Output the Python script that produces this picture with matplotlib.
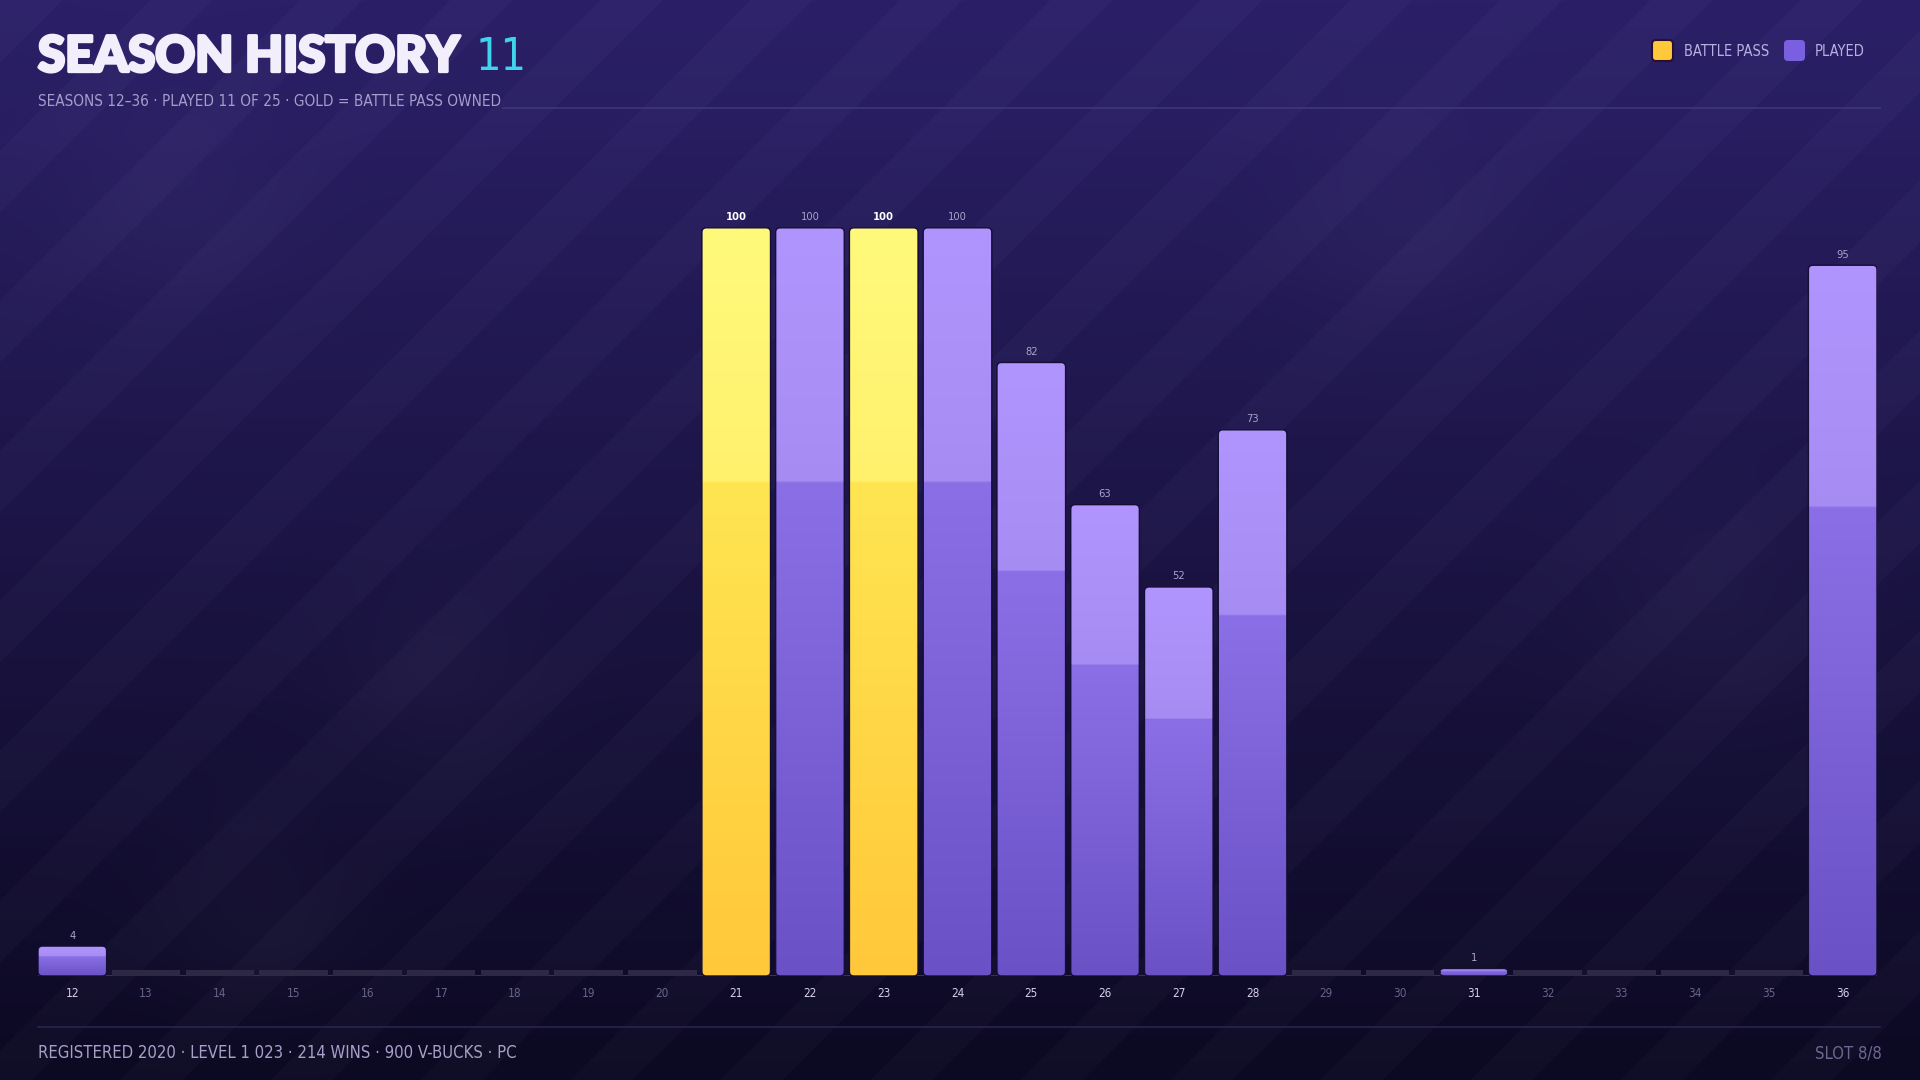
import numpy as np
import matplotlib
matplotlib.use("Agg")
from matplotlib import pyplot as plt
from matplotlib import patheffects as pe
from matplotlib.patches import FancyBboxPatch
from matplotlib.colors import to_rgb

seasons = [str(s) for s in range(12, 37)]
progress = [4, 0, 0, 0, 0, 0, 0, 0, 0, 100, 100, 100, 100, 82, 63, 52, 73, 0, 0, 1, 0, 0, 0, 0, 95]
battle_pass = ["21", "23"]

footer_items = ["REGISTERED 2020", "LEVEL 1 023", "214 WINS", "900 V-BUCKS", "PC"]

W, H = 1920, 1080
NARROW = dict(family="DejaVu Sans", fontstretch="condensed")
HEAVY = ["Lato", "DejaVu Sans"]


def hexrgb(c):
    return np.array(to_rgb(c))


def make_grad(top_hi, step_hi, step_lo, bottom, frac=0.34, n=300):
    # rows go bottom -> top (origin lower)
    p = np.linspace(0, 1, n)[:, None]
    cut = 1 - frac
    lo = hexrgb(bottom) * (1 - p / cut) + hexrgb(step_lo) * (p / cut)
    q = np.clip((p - cut) / frac, 0, 1)
    hi = hexrgb(step_hi) * (1 - q) + hexrgb(top_hi) * q
    img = np.where(p > cut, hi, lo)
    return img[:, None, :]


grad_purple = make_grad("#b195ff", "#a68cf2", "#8b6fe6", "#6a51c6")
grad_gold = make_grad("#fffa7c", "#fff16c", "#ffe552", "#ffc83a")

fig = plt.figure(figsize=(19.2, 10.8), dpi=100)

# background
bg_ax = fig.add_axes([0, 0, 1, 1], zorder=-10)
yy, xx = np.mgrid[0:H, 0:W]
t = (yy / H)[..., None]
top = hexrgb("#2b2068")
bot = hexrgb("#0c0922")
bg = top * (1 - t) + bot * t
stripes = (((xx + yy) % 150) < 62).astype(float)[..., None]
bg = bg + stripes * 0.018
for cx, cy, r in [(178, 200, 80), (1402, 226, 80), (440, 685, 70), (1708, 606, 80), (257, 918, 70)]:
    d = np.exp(-(((xx - cx) ** 2 + (yy - cy) ** 2) / (2 * r ** 2)))[..., None]
    bg = bg + d * 0.02
bg_ax.imshow(np.clip(bg, 0, 1), aspect="auto", extent=[0, W, H, 0], interpolation="bilinear")
bg_ax.axis("off")

# main chart
ax = fig.add_axes([38 / W, (H - 976) / H, (1877 - 38) / W, (976 - 153) / H])
ax.patch.set_alpha(0)
n = len(seasons)
x = np.arange(n)
bw = 0.93
ax.set_xlim(-0.465, n - 1 + 0.465)
ax.set_ylim(0, 110)
for s in ax.spines.values():
    s.set_visible(False)
ax.set_yticks([])

# px per data unit, for round corners
px_x = (1877 - 38) / (n - 1 + 0.93)
px_y = (976 - 153) / 110.0
rx = 4.5 / px_x
aspect = px_x / px_y

# placeholder stubs for unplayed seasons
stub = [0.8 if v == 0 else 0 for v in progress]
stub_bars = ax.bar(x, stub, width=bw, color="#2d2844", zorder=2)

bars = ax.bar(x, [v if v > 0 else 0 for v in progress], width=bw, color="none", zorder=3)
for rect, season, v in zip(bars, seasons, progress):
    if v <= 0:
        continue
    x0 = rect.get_x()
    w = rect.get_width()
    h = max(rect.get_height(), 1.0)
    clip = FancyBboxPatch((x0, 0), w, h, boxstyle=f"round,pad=0,rounding_size={rx}",
                          mutation_aspect=aspect, fc="none", ec="#150e36", lw=1.0, zorder=4)
    ax.add_patch(clip)
    grad = grad_gold if season in battle_pass else grad_purple
    im = ax.imshow(grad, extent=[x0, x0 + w, 0, h], origin="lower", aspect="auto",
                   interpolation="bilinear", zorder=3)
    im.set_clip_path(clip)
    gold = season in battle_pass
    ax.annotate(str(v), (x0 + w / 2, h), xytext=(0, 4), textcoords="offset points",
                ha="center", va="bottom", fontsize=8, **NARROW,
                color="#ffffff" if gold else "#aaa2cc",
                fontweight="bold" if gold else "normal", zorder=5)

ax.axhline(0, color="#3d3566", lw=1.3, zorder=1)
ax.set_xticks(x, seasons)
ax.tick_params(axis="x", length=0, pad=8)
for lbl, v in zip(ax.get_xticklabels(), progress):
    lbl.set_family("DejaVu Sans")
    lbl.set_fontstretch("condensed")
    lbl.set_fontsize(8.5)
    lbl.set_color("#d6cfee" if v > 0 else "#6a628a")

# overlay for header / footer in pixel coords
ov = fig.add_axes([0, 0, 1, 1], zorder=10)
ov.set_xlim(0, W)
ov.set_ylim(H, 0)
ov.axis("off")
ov.patch.set_alpha(0)

title = ov.text(38, 57, "SEASON HISTORY", family=HEAVY, fontweight="black", fontsize=35.5,
                color="#f2eefc", va="center", ha="left",
                path_effects=[pe.withStroke(linewidth=2.4, foreground="#f2eefc")])
played = sum(1 for v in progress if v > 0)
sub = f"SEASONS {seasons[0]}\u2013{seasons[-1]} \u00b7 PLAYED {played} OF {len(seasons)} \u00b7 GOLD = BATTLE PASS OWNED"
sub_t = ov.text(38, 101, sub, **NARROW, fontsize=11, color="#a59dcb", va="center", ha="left")

fig.canvas.draw()
r = fig.canvas.get_renderer()
bb = title.get_window_extent(r)
ov.text(bb.x1 + 16, 57, str(played), **NARROW, fontsize=32,
        color="#3fd3ec", va="center", ha="left")
sb = sub_t.get_window_extent(r)
ov.plot([sb.x1 + 2, 1880], [108, 108], color="#3f3679", lw=1.2)

# legend
ov.add_patch(FancyBboxPatch((1652, 40), 21, 21, boxstyle="round,pad=0,rounding_size=4",
                            fc="#ffc93a", ec="#2a1030", lw=1.5))
ov.text(1684, 51, "BATTLE PASS", **NARROW, fontsize=10.5, color="#b7afe0", va="center")
ov.add_patch(FancyBboxPatch((1784, 40), 21, 21, boxstyle="round,pad=0,rounding_size=4",
                            fc="#7a5fe0", ec="none"))
ov.text(1815, 51, "PLAYED", **NARROW, fontsize=10.5, color="#b7afe0", va="center")

# footer
ov.plot([38, 1880], [1027, 1027], color="#2a2450", lw=1.2)
ov.text(38, 1053, " \u00b7 ".join(footer_items), **NARROW, fontsize=12,
        color="#a8a0c8", va="center", ha="left")
ov.text(1882, 1053, "SLOT 8/8", **NARROW, fontsize=12, color="#6e6690",
        va="center", ha="right")

fig.savefig("out.png", dpi=100)
